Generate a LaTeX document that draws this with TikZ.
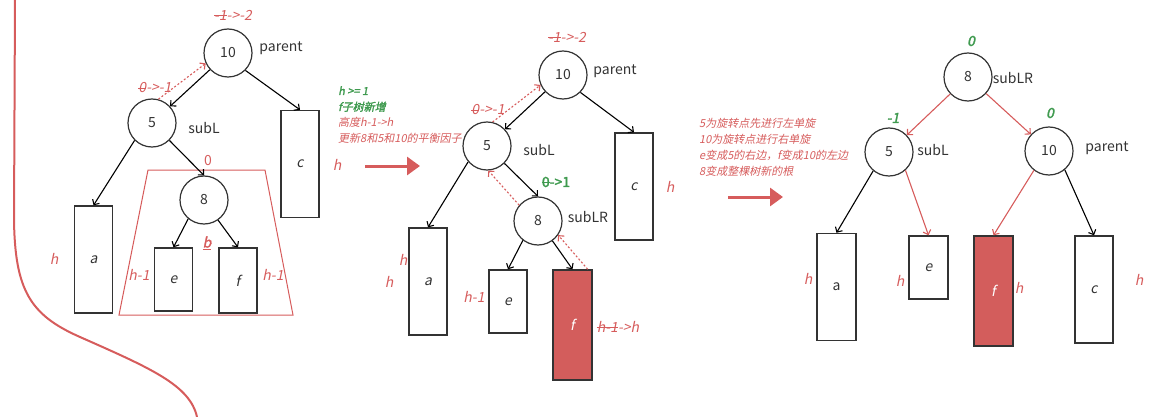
\documentclass[tikz,border=0pt]{standalone}
\usepackage{fontspec}
\setmainfont{Noto Sans CJK SC}[ItalicFont=*,ItalicFeatures={FakeSlant=0.2},
  BoldFont=*,BoldFeatures={FakeBold=2},
  BoldItalicFont=*,BoldItalicFeatures={FakeSlant=0.2,FakeBold=2}]
\usetikzlibrary{arrows.meta}
\definecolor{notered}{HTML}{D65C5C}
\definecolor{notegreen}{HTML}{3F9A4F}
\definecolor{inkgray}{HTML}{333333}
\definecolor{leaffill}{HTML}{D35D5C}
\newsavebox{\strkbox}
\newcommand{\strk}[1]{\sbox{\strkbox}{#1}\rlap{\usebox{\strkbox}}\rule[0.3em]{\wd\strkbox}{1pt}}

\begin{document}
\begin{tikzpicture}[x=1pt,y=-1pt,>={Straight Barb[length=4pt,width=8pt]}]
  \tikzstyle{treenode}=[draw=inkgray,circle,line width=1.2pt,minimum size=48pt,inner sep=0pt,text=inkgray,font=\fontsize{14}{16}\selectfont]
  \tikzstyle{subtree}=[draw=inkgray,rectangle,line width=1.4pt,minimum width=38pt,inner sep=0pt,text=inkgray,font=\fontsize{14}{16}\selectfont\itshape]
  \tikzstyle{tallbox}=[subtree,minimum height=107pt]
  \tikzstyle{shortbox}=[subtree,minimum height=63pt]
  \tikzstyle{grownbox}=[subtree,minimum height=110pt,fill=leaffill,text=white]
  \tikzstyle{rolelabel}=[text=inkgray,font=\fontsize{14}{16}\selectfont,inner sep=1pt]
  \tikzstyle{hlabel}=[text=notered,font=\fontsize{14}{16}\selectfont\itshape,inner sep=1pt]
  \tikzstyle{bflabel}=[text=notegreen,font=\fontsize{14}{16}\selectfont\bfseries,inner sep=1pt]
  \tikzstyle{edge}=[->,draw=black,line width=1.1pt]
  \tikzstyle{rededge}=[->,draw=notered,line width=1.1pt]
  \tikzstyle{updatearrow}=[->,draw=notered,dash pattern=on 2pt off 2pt,line width=1.1pt]
  \tikzstyle{steparrow}=[-{Triangle[length=13pt,width=18pt]},draw=notered,line width=3pt]
  \tikzstyle{notetext}=[align=left,anchor=north west,inner sep=0pt,font=\fontsize{11}{16}\selectfont\itshape]
  \useasboundingbox (0,0) rectangle (1172,417);

  % red margin curve
  \draw[notered,line width=2pt] (15,0) -- (14,220) .. controls (15,290) and (30,315) .. (80,337)
    .. controls (150,368) and (190,385) .. (197,417);

  % tree before the insertion
  \node[treenode] (L10) at (228,53) {10};
  \node[rolelabel] (L10role) at (281,48) {parent};
  \node[hlabel] (L10bf) at (233,15) {\strk{-1}->-2};
  \node[treenode] (L5) at (152,123) {5};
  \node[rolelabel] (L5role) at (204,128) {subL};
  \node[hlabel] (L5bf) at (155,88) {\strk{0}->-1};
  \node[treenode] (L8) at (204,200) {8};
  \node[hlabel,font=\fontsize{14}{16}\selectfont] (L8bf) at (208,161) {0};
  \node[tallbox] (La) at (93.5,259.5) {a};
  \node[tallbox] (Lc) at (300,164) {c};
  \node[shortbox] (Le) at (173.5,279.5) {e};
  \node[shortbox,minimum height=65pt] (Lf) at (238,280.5) {f};
  \node[hlabel] (Lb) at (207,243) {\underline{\textbf{b}}};
  \node[hlabel] (Lah) at (54,259) {h};
  \node[hlabel] (Lch) at (337,165) {h};
  \node[hlabel] (Leh) at (139,275) {h-1};
  \node[hlabel] (Lfh) at (273,275) {h-1};
  \draw[notered,line width=1pt] (148,170) -- (265,170) -- (293,315) -- (119,315) -- cycle;
  \draw[edge] (L10) -- (L5);
  \draw[edge] (L10.-45) -- (Lc.north);
  \draw[edge] (L5.-135) -- (La.north);
  \draw[edge] (L5.-45) -- (L8.north);
  \draw[edge] (L8.-130) -- (Le.north);
  \draw[edge] (L8.-55) -- (Lf.north);
  \draw[updatearrow] (L5.75) -- (L10.205);

  % first step
  \coordinate (step1s) at (365,166);
  \coordinate (step1e) at (420,166);
  \draw[steparrow] (step1s) -- (step1e);
  \node[notetext] (note1) at (338,86) {\textcolor{notegreen}{\bfseries h >= 1}\\
    \textcolor{notegreen}{\bfseries f子树新增}\\
    \textcolor{notered}{高度h-1->h}\\
    \textcolor{notered}{更新8和5和10的平衡因子}};

  % tree after the insertion
  \node[treenode] (M10) at (563,75) {10};
  \node[rolelabel] (M10role) at (615,71) {parent};
  \node[hlabel] (M10bf) at (567,37) {\strk{-1}->-2};
  \node[treenode] (M5) at (487,146) {5};
  \node[rolelabel] (M5role) at (539,150) {subL};
  \node[hlabel] (M5bf) at (488,110) {\strk{0}->-1};
  \node[treenode] (M8) at (538,221) {8};
  \node[rolelabel] (M8role) at (588,217) {subLR};
  \node[bflabel] (M8bf) at (556,182) {\strk{0}->1};
  \node[tallbox] (Ma) at (428,281.5) {a};
  \node[tallbox] (Mc) at (634,186.5) {c};
  \node[shortbox] (Me) at (508,301.5) {e};
  \node[grownbox,minimum width=39pt] (Mf) at (572.5,325) {f};
  \node[hlabel] (Mah) at (403,260) {h};
  \node[hlabel] (Mah2) at (389,282) {h};
  \node[hlabel] (Mch) at (670,187) {h};
  \node[hlabel] (Meh) at (474,297) {h-1};
  \node[hlabel] (Mfh) at (618,327) {\strk{h-1}->h};
  \draw[edge] (M10) -- (M5);
  \draw[edge] (M10.-45) -- (Mc.north);
  \draw[edge] (M5.-140) -- (Ma.north);
  \draw[edge] (M5.-45) -- (M8.north);
  \draw[edge] (M8.-128) -- (Me.north);
  \draw[edge] (M8.-54) -- (Mf.north);
  \draw[updatearrow] (M5.77) -- (M10.204);
  \draw[updatearrow] (M8.140) -- (M5.-87);
  \draw[updatearrow] ([xshift=-5pt]Mf.north east) -- (M8.-35);

  % second step
  \coordinate (step2s) at (728,197);
  \coordinate (step2e) at (783,197);
  \draw[steparrow] (step2s) -- (step2e);
  \node[notetext,text=notered] (note2) at (699,118) {5为旋转点先进行左单旋\\
    10为旋转点进行右单旋\\
    e变成5的右边，f变成10的左边\\
    8变成整棵树新的根};

  % tree after the double rotation
  \node[treenode] (R8) at (968,77) {8};
  \node[rolelabel] (R8role) at (1013,78) {subLR};
  \node[bflabel,font=\fontsize{14}{16}\selectfont\bfseries\itshape] (R8bf) at (971,41) {0};
  \node[treenode] (R5) at (889,152) {5};
  \node[rolelabel] (R5role) at (933,150) {subL};
  \node[bflabel,font=\fontsize{14}{16}\selectfont\bfseries\itshape] (R5bf) at (893,118) {-1};
  \node[treenode] (R10) at (1049,151) {10};
  \node[rolelabel] (R10role) at (1107,148) {parent};
  \node[bflabel,font=\fontsize{14}{16}\selectfont\bfseries\itshape] (R10bf) at (1050,113) {0};
  \node[tallbox,minimum width=39pt,font=\fontsize{14}{16}\selectfont] (Ra) at (836.5,287) {a};
  \node[shortbox,minimum width=39pt] (Re) at (928.5,267.5) {e};
  \node[grownbox,minimum width=39pt] (Rf) at (993.5,291) {f};
  \node[tallbox] (Rc) at (1094,289.5) {c};
  \node[hlabel] (Rah) at (808,279) {h};
  \node[hlabel] (Reh) at (900,281) {h};
  \node[hlabel] (Rfh) at (1019,288) {h};
  \node[hlabel] (Rch) at (1139,280) {h};
  \draw[rededge] (R8) -- (R5);
  \draw[rededge] (R8) -- (R10);
  \draw[edge] (R5.-130) -- (Ra.north);
  \draw[rededge] (R5.-48) -- (Re.north);
  \draw[rededge] (R10.-128) -- (Rf.north);
  \draw[edge] (R10.-50) -- (Rc.north);
\end{tikzpicture}
\end{document}
